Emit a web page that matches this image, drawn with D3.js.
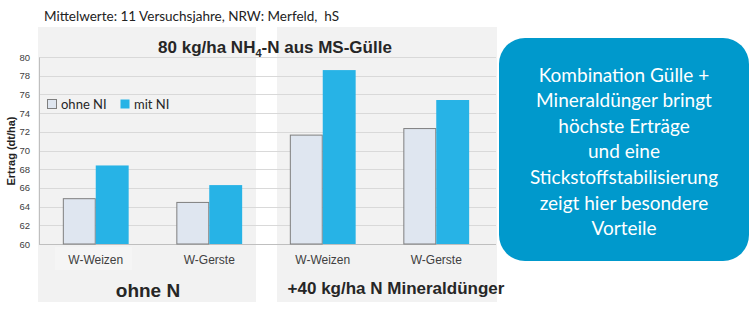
<!DOCTYPE html>
<html>
<head>
<meta charset="utf-8">
<script src="https://cdn.jsdelivr.net/npm/d3@7"></script>
<style>
  html, body { margin: 0; padding: 0; background: #ffffff; }
  svg { display: block; }
  text { white-space: pre; }
</style>
</head>
<body>
<div id="chart"></div>
<script>
// Winter cereal yields, mean of 11 trial years (NRW, Merfeld)
const categories = ["W-Weizen", "W-Gerste", "W-Weizen ", "W-Gerste "];
const seriesNames = ["ohne NI", "mit NI"];
const ohneNI = [64.9, 64.5, 71.7, 72.4];
const mitNI  = [68.4, 66.3, 78.6, 75.4];
const yTicks = [60, 62, 64, 66, 68, 70, 72, 74, 76, 78, 80];
const groupLabels = ["ohne N", "+40 kg/ha N Mineraldünger"];

const W = 750, H = 313;
const margin = { left: 39, right: 257, top: 57, bottom: 69 };
const colors = { "ohne NI": "#dfe6f0", "mit NI": "#27b3e6" };
const sans = "'Liberation Sans', Arial, sans-serif";
const body = "Lato, 'Open Sans', sans-serif";

const svg = d3.select("#chart").append("svg")
  .attr("width", W).attr("height", H);

// Grey background panels for the two fertilisation levels
svg.append("rect").attr("x", 38).attr("y", 27).attr("width", 218).attr("height", 275).attr("fill", "#f2f2f2");
svg.append("rect").attr("x", 277).attr("y", 27).attr("width", 220).attr("height", 275).attr("fill", "#f2f2f2");
// faint label box under the first category name
svg.append("rect").attr("x", 55).attr("y", 247).attr("width", 77).attr("height", 23).attr("fill", "#f5f5f5");

// Subtitle
svg.append("text")
  .attr("x", 44).attr("y", 21)
  .attr("font-family", body)
  .attr("font-size", 13.5).attr("fill", "#222")
  .text("Mittelwerte: 11 Versuchsjahre, NRW: Merfeld,  hS");

const x0 = d3.scaleBand().domain(categories)
  .range([margin.left, W - margin.right]).paddingInner(0.42).paddingOuter(0.21);
const x1 = d3.scaleBand().domain(seriesNames).range([0, x0.bandwidth()]);
const y = d3.scaleLinear().domain([60, 80]).range([H - margin.bottom, margin.top]);

// Gridlines
svg.append("g")
  .selectAll("line").data(yTicks.slice(1)).join("line")
  .attr("x1", margin.left).attr("x2", W - margin.right + 3)
  .attr("y1", d => Math.round(y(d)) + 0.5).attr("y2", d => Math.round(y(d)) + 0.5)
  .attr("stroke", "#d9d9d9").attr("stroke-width", 1);

// Y axis
const yAxis = svg.append("g")
  .attr("transform", `translate(${margin.left},0)`)
  .call(d3.axisLeft(y).tickValues(yTicks).tickSize(0).tickPadding(9));
yAxis.select(".domain").attr("stroke", "#bfbfbf");
yAxis.selectAll("text")
  .attr("font-family", sans).attr("font-size", 9.5).attr("fill", "#404040");

// X axis baseline
svg.append("line")
  .attr("x1", margin.left).attr("x2", W - margin.right + 3)
  .attr("y1", y(60) + 0.5).attr("y2", y(60) + 0.5)
  .attr("stroke", "#bfbfbf");

// Bars
const rows = categories.map((c, i) => ({ cat: c, vals: [
  { s: "ohne NI", v: ohneNI[i] }, { s: "mit NI", v: mitNI[i] } ] }));

const groups = svg.append("g").selectAll("g").data(rows).join("g")
  .attr("transform", d => `translate(${x0(d.cat)},0)`);
groups.selectAll("rect").data(d => d.vals).join("rect")
  .attr("x", d => x1(d.s) + (d.s === "ohne NI" ? 0.5 : 0))
  .attr("y", d => y(d.v) + (d.s === "ohne NI" ? 0.5 : 0))
  .attr("width", d => x1.bandwidth() - (d.s === "ohne NI" ? 1 : 0))
  .attr("height", d => y(60) - y(d.v) - (d.s === "ohne NI" ? 0.5 : 0))
  .attr("fill", d => colors[d.s])
  .attr("stroke", d => d.s === "ohne NI" ? "#7f7f7f" : "none")
  .attr("stroke-width", 1);

// Category labels
svg.append("g").selectAll("text").data(categories).join("text")
  .attr("x", d => x0(d) + x0.bandwidth() / 2)
  .attr("y", 264)
  .attr("text-anchor", "middle")
  .attr("font-family", sans)
  .attr("font-size", 12).attr("fill", "#404040")
  .text(d => d.trim());

// Y axis title
svg.append("text")
  .attr("transform", "translate(15,151) rotate(-90)")
  .attr("text-anchor", "middle")
  .attr("font-family", sans)
  .attr("font-size", 11).attr("font-weight", "bold").attr("fill", "#222")
  .text("Ertrag (dt/ha)");

// Chart title with subscript
const title = svg.append("text")
  .attr("x", 275).attr("y", 53).attr("text-anchor", "middle")
  .attr("font-family", sans)
  .attr("font-size", 17).attr("font-weight", "bold").attr("fill", "#262626");
title.append("tspan").text("80 kg/ha NH");
title.append("tspan").attr("font-size", 11).attr("dy", 4).text("4");
title.append("tspan").attr("dy", -4).text("-N aus MS-Gülle");

// Legend
const legend = svg.append("g").attr("transform", "translate(47,99)");
const legendX = [0, 73];
seriesNames.forEach((s, i) => {
  const g = legend.append("g").attr("transform", `translate(${legendX[i]},0)`);
  g.append("rect").attr("x", 0.5).attr("y", 0.5).attr("width", 9).attr("height", 9)
    .attr("fill", colors[s]).attr("stroke", s === "ohne NI" ? "#7f7f7f" : "none");
  g.append("text").attr("x", 14).attr("y", 9.5)
    .attr("font-family", body).attr("font-size", 13).attr("fill", "#262626")
    .text(s);
});

// Fertilisation level labels
svg.append("text").attr("x", 148).attr("y", 297).attr("text-anchor", "middle")
  .attr("font-family", sans)
  .attr("font-size", 19).attr("font-weight", "bold").attr("fill", "#262626")
  .text(groupLabels[0]);
svg.append("text").attr("x", 396).attr("y", 294).attr("text-anchor", "middle")
  .attr("font-family", sans)
  .attr("font-size", 17).attr("font-weight", "bold").attr("fill", "#262626")
  .text(groupLabels[1]);

// Callout box
const noteLines = ["Kombination Gülle +", "Mineraldünger bringt", "höchste Erträge",
  "und eine", "Stickstoffstabilisierung", "zeigt hier besondere", "Vorteile"];
svg.append("rect").attr("x", 499).attr("y", 38).attr("width", 250).attr("height", 223)
  .attr("rx", 26).attr("fill", "#0099cc");
svg.append("g").selectAll("text").data(noteLines).join("text")
  .attr("x", 624).attr("y", (d, i) => 81.5 + i * 25.6)
  .attr("text-anchor", "middle")
  .attr("font-family", body)
  .attr("font-size", 19).attr("fill", "#ffffff")
  .text(d => d);
</script>
</body>
</html>
